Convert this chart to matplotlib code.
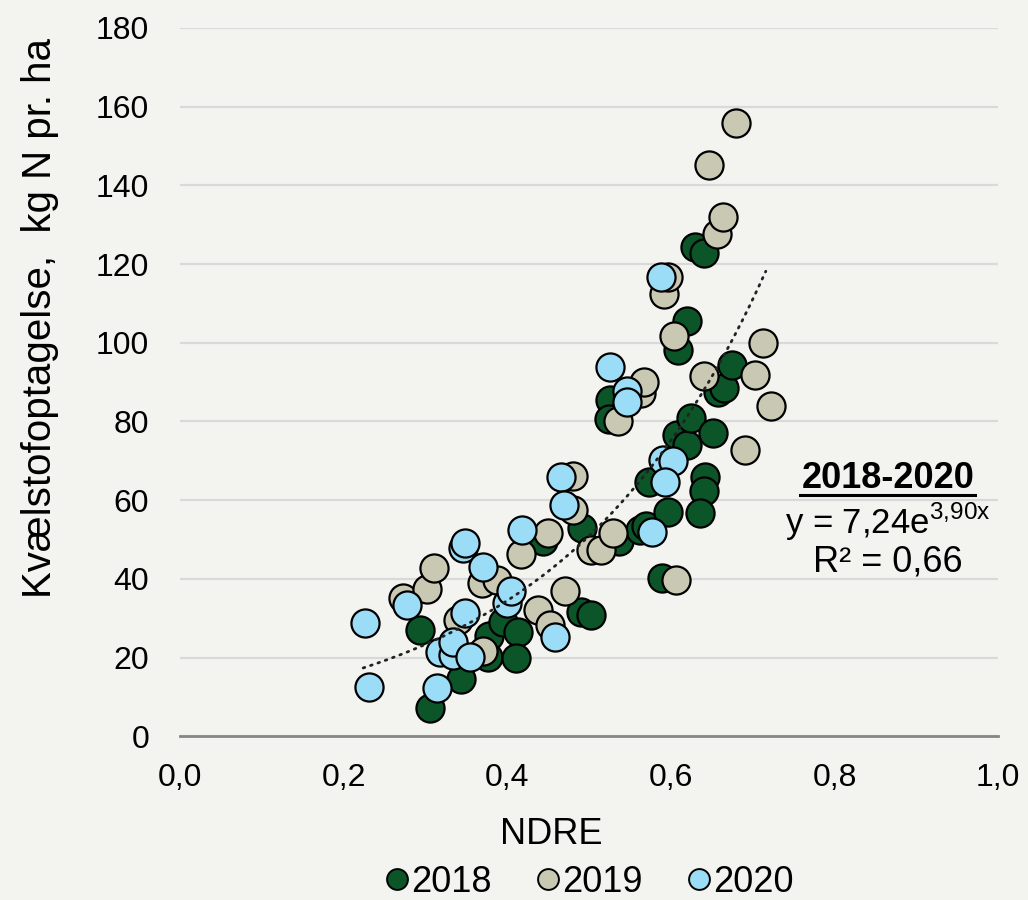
import numpy as np
import matplotlib
matplotlib.use("Agg")
import matplotlib.pyplot as plt
from matplotlib.lines import Line2D
from matplotlib.ticker import FuncFormatter

# NDRE vs. kvælstofoptagelse
x_2018 = [0.306, 0.294, 0.344, 0.377, 0.378, 0.395, 0.413, 0.411, 0.444, 0.490,
          0.503, 0.492, 0.526, 0.524, 0.536, 0.562, 0.570, 0.573, 0.596, 0.589,
          0.609, 0.620, 0.630, 0.640, 0.608, 0.620, 0.625, 0.651, 0.642, 0.640,
          0.635, 0.658, 0.665, 0.675]
y_2018 = [7.1, 27.0, 14.5, 20.1, 25.5, 29.0, 26.5, 19.8, 49.5, 31.5,
          30.7, 53.0, 85.4, 80.6, 49.5, 52.5, 53.5, 64.6, 57.0, 40.3,
          98.2, 105.5, 124.3, 122.8, 76.5, 74.0, 80.9, 77.0, 65.9, 62.3,
          56.8, 87.5, 88.6, 94.3]

x_2019 = [0.273, 0.302, 0.311, 0.340, 0.369, 0.387, 0.371, 0.417, 0.438, 0.452,
          0.450, 0.471, 0.481, 0.481, 0.502, 0.515, 0.529, 0.535, 0.564, 0.567,
          0.591, 0.596, 0.604, 0.606, 0.641, 0.646, 0.656, 0.664, 0.679, 0.690,
          0.703, 0.712, 0.722]
y_2019 = [35.0, 37.5, 42.7, 29.5, 39.0, 39.7, 21.7, 46.2, 32.0, 28.2,
          51.7, 37.0, 66.0, 57.5, 47.3, 47.3, 51.7, 80.0, 87.3, 90.0,
          112.5, 116.7, 101.8, 39.7, 91.5, 145.2, 127.6, 132.0, 155.9, 72.7,
          91.8, 99.9, 83.9]

x_2020 = [0.226, 0.231, 0.277, 0.314, 0.318, 0.334, 0.334, 0.355, 0.349, 0.346,
          0.349, 0.371, 0.400, 0.405, 0.418, 0.459, 0.466, 0.469, 0.525, 0.546,
          0.546, 0.577, 0.588, 0.590, 0.602, 0.593]
y_2020 = [28.7, 12.5, 33.3, 12.3, 21.5, 20.6, 24.0, 20.2, 31.2, 47.8,
          49.0, 43.0, 33.8, 37.0, 52.4, 25.2, 65.9, 58.7, 93.8, 87.8,
          85.0, 52.0, 116.7, 70.2, 70.0, 64.6]

# eksponentiel trendlinje (2018-2020)
trend_a = 7.24
trend_b = 3.90
trend_range = [0.224, 0.716]

years = ["2018", "2019", "2020"]
colors = ["#0B5529", "#C9C8B3", "#9BDCF7"]
bg = "#F3F3EF"

plt.rcParams['font.family'] = ['Liberation Sans', 'DejaVu Sans']

fig = plt.figure(figsize=(10.28, 9.0), dpi=100, facecolor=bg)
ax = fig.add_axes([0.175, 0.182, 0.796, 0.787], facecolor=bg)

for xs, ys, c in zip([x_2018, x_2019, x_2020], [y_2018, y_2019, y_2020], colors):
    ax.scatter(xs, ys, s=410, c=c, edgecolors="black", linewidths=1.6,
               zorder=3, clip_on=False)

tx = np.linspace(trend_range[0], trend_range[1], 200)
ax.plot(tx, trend_a * np.exp(trend_b * tx), color="#222222", lw=2.0,
        ls=(0, (0.6, 2.2)), dash_capstyle="round", zorder=4)

ax.set_xlim(0, 1.0)
ax.set_ylim(0, 180)
ax.set_xticks(np.arange(0, 1.01, 0.2))
ax.set_yticks(np.arange(0, 181, 20))
ax.xaxis.set_major_formatter(FuncFormatter(lambda v, p: f"{v:.1f}".replace(".", ",")))
ax.grid(axis="y", color="#D9D9D9", lw=1.6, zorder=0)
ax.set_axisbelow(True)
for s in ["top", "right", "left"]:
    ax.spines[s].set_visible(False)
ax.spines["bottom"].set_color("#868686")
ax.spines["bottom"].set_linewidth(2.0)
ax.spines["bottom"].set_zorder(2)
ax.tick_params(length=0, labelsize=23, colors="black")
ax.tick_params(axis="y", pad=22)
ax.tick_params(axis="x", pad=19)

ax.set_xlabel("NDRE", fontsize=26)
ax.xaxis.set_label_coords(0.454, -0.114)
fig.text(40 / 1028, 1 - 318 / 900, "Kvælstofoptagelse,  kg N pr. ha", fontsize=29,
         rotation=90, ha="center", va="center")

ax.text(0.865, 65.6, "2018-2020", fontsize=26, fontweight="bold",
        ha="center", va="center", zorder=5)
ax.plot([0.758, 0.972], [61.3, 61.3], color="black", lw=2.2, zorder=5,
        clip_on=False)
ax.text(0.865, 54.4, r"y = 7,24e$^{\mathregular{3{,}90x}}$", fontsize=25,
        ha="center", va="center", zorder=5)
ax.text(0.865, 44.2, "R² = 0,66", fontsize=26, ha="center", va="center", zorder=5)

handles = [Line2D([], [], ls="", marker="o", markersize=15, markerfacecolor=c,
                  markeredgecolor="black", markeredgewidth=1.4) for c in colors]
fig.legend(handles, years, loc="center", bbox_to_anchor=(0.572, 0.02), ncol=3,
           frameon=False, fontsize=26, handletextpad=0.0, columnspacing=1.15,
           handlelength=0.8, borderpad=0)

fig.savefig("out.png", dpi=100, facecolor=bg)
